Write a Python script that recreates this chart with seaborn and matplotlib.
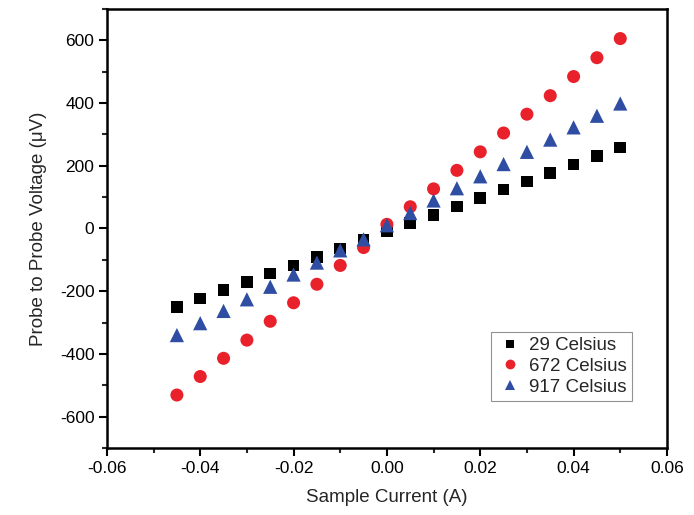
import numpy as np
import pandas as pd
import matplotlib
matplotlib.use("Agg")
import matplotlib.pyplot as plt
import seaborn as sns
from matplotlib.ticker import MultipleLocator

current = [-0.045, -0.04, -0.035, -0.03, -0.025, -0.02, -0.015, -0.01, -0.005, 0.0,
           0.005, 0.01, 0.015, 0.02, 0.025, 0.03, 0.035, 0.04, 0.045, 0.05]
v29 = [-250, -223, -197, -170, -144, -118, -91, -64, -36, -9,
       17, 43, 70, 96, 124, 150, 177, 204, 231, 258]
v672 = [-531, -472, -414, -356, -296, -237, -178, -118, -61, 13,
        69, 126, 185, 244, 304, 364, 423, 484, 544, 605]
v917 = [-340, -302, -263, -226, -186, -147, -109, -70, -35, 10,
        49, 89, 128, 166, 205, 244, 283, 322, 359, 398]
labels = ["29 Celsius", "672 Celsius", "917 Celsius"]

df = pd.DataFrame({
    "x": current * 3,
    "y": v29 + v672 + v917,
    "series": [labels[0]] * len(current) + [labels[1]] * len(current) + [labels[2]] * len(current),
})

sns.set_style("ticks")
plt.rcParams['font.family'] = ['Liberation Sans', 'DejaVu Sans']
plt.rcParams['axes.unicode_minus'] = False

fig = plt.figure(figsize=(6.94, 5.15), dpi=100)
ax = fig.add_axes([0.154, 0.130, 0.807, 0.853])

palette = {labels[0]: "#000000", labels[1]: "#e8212b", labels[2]: "#2f4ea3"}
markers = {labels[0]: "s", labels[1]: "o", labels[2]: "^"}
sizes = {labels[0]: 70, labels[1]: 88, labels[2]: 105}
sns.scatterplot(data=df, x="x", y="y", hue="series", style="series", size="series",
                palette=palette, markers=markers, sizes=sizes, linewidth=0, ax=ax)

ax.set_xlim(-0.06, 0.06)
ax.set_ylim(-700, 700)
ax.set_xticks([-0.06, -0.04, -0.02, 0.0, 0.02, 0.04, 0.06])
ax.set_xticklabels(["-0.06", "-0.04", "-0.02", "0.00", "0.02", "0.04", "0.06"])
ax.set_yticks([-600, -400, -200, 0, 200, 400, 600])
ax.xaxis.set_minor_locator(MultipleLocator(0.01))
ax.yaxis.set_minor_locator(MultipleLocator(100))
ax.tick_params(which="major", length=6, width=1.5, labelsize=12.5, direction="out",
               colors="black", pad=3)
ax.tick_params(which="minor", length=3.5, width=1.5, direction="out")
for sp in ax.spines.values():
    sp.set_linewidth(1.8)
    sp.set_color("black")
    sp.set_visible(True)

ax.set_xlabel("Sample Current (A)", fontsize=13.5, labelpad=10)
ax.set_ylabel("Probe to Probe Voltage (\u03bcV)", fontsize=13.5, labelpad=9)

leg = ax.legend(loc="lower right", bbox_to_anchor=(0.937, 0.108), fontsize=13.5,
                frameon=True, fancybox=False, edgecolor="#777777",
                handletextpad=0.2, handlelength=1.6, borderpad=0.25,
                labelspacing=0.2, markerscale=0.75, borderaxespad=0)
leg.get_frame().set_linewidth(0.8)

fig.savefig("out.png", dpi=100)
